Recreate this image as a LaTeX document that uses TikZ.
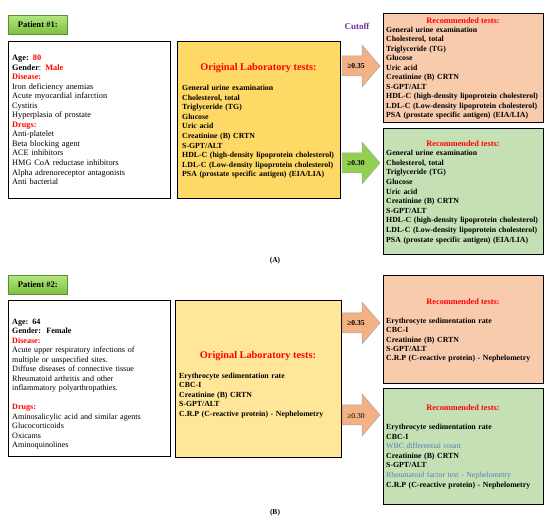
\documentclass[tikz,border=0pt]{standalone}
\usepackage{fontspec}
\setmainfont{Liberation Serif}
\usetikzlibrary{shadows}
\definecolor{labgreen}{HTML}{92D050}
\definecolor{labgreenT}{HTML}{B2E67E}
\definecolor{labgreenB}{HTML}{7CC03E}
\definecolor{labgreenD}{HTML}{5A8F2B}
\definecolor{goldA}{HTML}{FFD966}
\definecolor{goldB}{HTML}{FFE699}
\definecolor{peach}{HTML}{F8CBAD}
\definecolor{peachArrow}{HTML}{F4B183}
\definecolor{lgreen}{HTML}{C5E0B4}
\definecolor{cutpurple}{HTML}{7030A0}
\definecolor{bluetxt}{HTML}{4F81BD}
\tikzset{
  x=1pt, y=-1pt,
  panelbox/.style={draw=black, line width=1.2pt, anchor=north west, inner sep=0pt},
  listtext/.style={anchor=base west, inner sep=0pt, align=left, text width=#1,
    font=\fontsize{8.3}{9.55}\selectfont},
  listtext/.default=160pt,
  labtitle/.style={inner sep=0pt, anchor=base, text=red, font=\fontsize{10.3}{11}\selectfont\bfseries},
  rectitle/.style={inner sep=0pt, anchor=base, text=red, font=\fontsize{8.3}{10}\selectfont\bfseries},
  patlabel/.style={draw=labgreenD, line width=0.6pt, top color=labgreenT, bottom color=labgreenB,
    anchor=north west, minimum width=59pt, minimum height=19pt, inner sep=0pt,
    font=\fontsize{8.6}{10}\selectfont\bfseries,
    drop shadow={opacity=0.35, shadow xshift=1pt, shadow yshift=-1pt}},
  cutlabel/.style={inner sep=0pt, font=\fontsize{7.6}{9}\selectfont\bfseries},
  caption/.style={inner sep=0pt, font=\fontsize{7.5}{9}\selectfont\bfseries},
  arrowO/.style={fill=peachArrow, draw=black!35, line width=0.5pt},
  arrowG/.style={fill=labgreen, draw=black!35, line width=0.5pt},
  pics/cutarrow/.style={code={
    \draw[pic actions] (0,-10) -- (20,-10) -- (20,-21) -- (38,0) -- (20,21) -- (20,10) -- (0,10) -- cycle;}}
}
\begin{document}
\begin{tikzpicture}
\useasboundingbox (0,0) rectangle (550,526);

% ================= Panel A =================
\node[patlabel] (plA) at (8,15) {Patient \#1:};
\node[inner sep=0pt, text=cutpurple, font=\fontsize{9}{10}\selectfont\bfseries] (cutoff) at (357,26.5) {Cutoff};

\node[panelbox, fill=white, minimum width=162pt, minimum height=157pt] (patA) at (8,41) {};
\node[listtext=155pt] (patAtxt) at (12,60.5) {%
\textbf{Age:} \textcolor{red}{\textbf{80}}\\
\textbf{Gender}: \textcolor{red}{\textbf{Male}}\\
\textcolor{red}{\textbf{Disease:}}\\
Iron deficiency anemias\\
Acute myocardial infarction\\
Cystitis\\
Hyperplasia of prostate\\
\textcolor{red}{\textbf{Drugs:}}\\
Anti-platelet\\
Beta blocking agent\\
ACE inhibitors\\
HMG CoA reductase inhibitors\\
Alpha adrenoreceptor antagonists\\
Anti bacterial};

\node[panelbox, fill=goldA, minimum width=163pt, minimum height=157pt] (labA) at (177,41) {};
\node[labtitle] (labAtitle) at (258.5,70.5) {Original Laboratory tests:};
\node[listtext=158pt, font=\fontsize{7.8}{9.6}\selectfont\bfseries] (labAtxt) at (182,90.5) {%
General urine examination\\
Cholesterol, total\\
Triglyceride (TG)\\
Glucose\\
Uric acid\\
Creatinine (B) CRTN\\
S-GPT/ALT\\
HDL-C (high-density lipoprotein cholesterol)\\
LDL-C (Low-density lipoprotein cholesterol)\\
PSA (prostate specific antigen) (EIA/LIA)};

\pic[arrowO] (arA1) at (342,66) {cutarrow};
\node[cutlabel] (cA1) at (356,66) {≥0.35};
\pic[arrowG] (arA2) at (342,163) {cutarrow};
\node[cutlabel] (cA2) at (356,163) {≥0.30};

\node[panelbox, fill=peach, minimum width=160pt, minimum height=109pt] (recA1) at (383,13) {};
\node[rectitle] (recA1title) at (463,23.7) {Recommended tests:};
\node[listtext=157pt, font=\fontsize{7.8}{9.5}\selectfont\bfseries] (recA1txt) at (386,32.5) {%
General urine examination\\
Cholesterol, total\\
Triglyceride (TG)\\
Glucose\\
Uric acid\\
Creatinine (B) CRTN\\
S-GPT/ALT\\
HDL-C (high-density lipoprotein cholesterol)\\
LDL-C (Low-density lipoprotein cholesterol)\\
PSA (prostate specific antigen) (EIA/LIA)};

\node[panelbox, fill=lgreen, minimum width=160pt, minimum height=126pt] (recA2) at (383,128) {};
\node[rectitle] (recA2title) at (463,147) {Recommended tests:};
\node[listtext=157pt, font=\fontsize{7.8}{9.6}\selectfont\bfseries] (recA2txt) at (386,155.8) {%
General urine examination\\
Cholesterol, total\\
Triglyceride (TG)\\
Glucose\\
Uric acid\\
Creatinine (B) CRTN\\
S-GPT/ALT\\
HDL-C (high-density lipoprotein cholesterol)\\
LDL-C (Low-density lipoprotein cholesterol)\\
PSA (prostate specific antigen) (EIA/LIA)};

\node[caption] (capA) at (275,261) {(A)};

% ================= Panel B =================
\node[patlabel] (plB) at (8,275) {Patient \#2:};

\node[panelbox, fill=white, minimum width=162pt, minimum height=156pt] (patB) at (8,300) {};
\node[listtext=158pt, font=\fontsize{8.1}{9.5}\selectfont] (patBtxt) at (12,324.5) {%
\textbf{Age: 64}\\
\textbf{Gender:\ \ Female}\\
\textcolor{red}{\textbf{Disease:}}\\
Acute upper respiratory infections of\\
multiple or unspecified sites.\\
Diffuse diseases of connective tissue\\
Rheumatoid arthritis and other\\
inflammatory polyarthropathies.\\[9.5pt]
\textcolor{red}{\textbf{Drugs:}}\\
Aminosalicylic acid and similar agents\\
Glucocorticoids\\
Oxicams\\
Aminoquinolines};

\node[panelbox, fill=goldB, minimum width=166pt, minimum height=157pt] (labB) at (175,300) {};
\node[labtitle] (labBtitle) at (258,358.5) {Original Laboratory tests:};
\node[listtext=160pt, font=\fontsize{7.8}{9.5}\selectfont\bfseries] (labBtxt) at (179,378.5) {%
Erythrocyte sedimentation rate\\
CBC-I\\
Creatinine (B) CRTN\\
S-GPT/ALT\\
C.R.P (C-reactive protein) - Nephelometry};

\pic[arrowO] (arB1) at (342,323) {cutarrow};
\node[cutlabel] (cB1) at (356,323) {≥0.35};
\pic[arrowO] (arB2) at (342,415) {cutarrow};
\node[cutlabel, font=\fontsize{7.6}{9}\selectfont] (cB2) at (356,416) {≥0.30};

\node[panelbox, fill=peach, minimum width=160pt, minimum height=108pt] (recB1) at (383,275) {};
\node[rectitle] (recB1title) at (463,305) {Recommended tests:};
\node[listtext=157pt, font=\fontsize{7.8}{9.35}\selectfont\bfseries] (recB1txt) at (386,323.5) {%
Erythrocyte sedimentation rate\\
CBC-I\\
Creatinine (B) CRTN\\
S-GPT/ALT\\
C.R.P (C-reactive protein) - Nephelometry};

\node[panelbox, fill=lgreen, minimum width=160pt, minimum height=116pt] (recB2) at (383,388) {};
\node[rectitle] (recB2title) at (463,411) {Recommended tests:};
\node[listtext=157pt, font=\fontsize{7.8}{9.6}\selectfont\bfseries] (recB2txt) at (386,429.5) {%
Erythrocyte sedimentation rate\\
CBC-I\\
\textcolor{bluetxt}{\mdseries WBC differential count}\\
Creatinine (B) CRTN\\
S-GPT/ALT\\
\textcolor{bluetxt}{\mdseries Rheumatoid factor test - Nephelometry}\\
C.R.P (C-reactive protein) - Nephelometry};

\node[caption] (capB) at (275,513) {(B)};
\end{tikzpicture}
\end{document}
